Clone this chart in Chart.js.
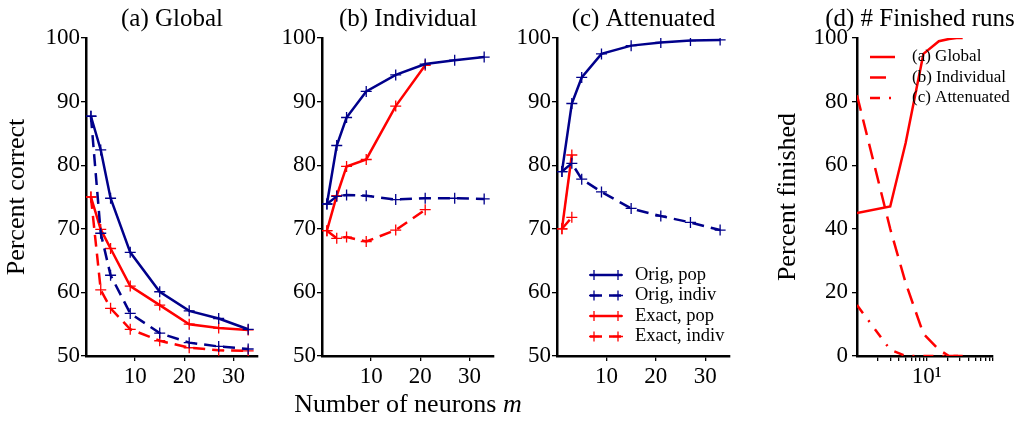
<!DOCTYPE html>
<html>
<head>
<meta charset="utf-8">
<script src="https://cdn.jsdelivr.net/npm/chart.js@4.4.1/dist/chart.umd.min.js"></script>
<style>
  html, body { margin: 0; padding: 0; background: #fff; }
  body { width: 1029px; height: 423px; position: relative; overflow: hidden; }
  canvas { position: absolute; top: 0; }
  #xlabel { position: absolute; top: 391px; left: 408px; transform: translateX(-50%);
            font: 26px/1 "Liberation Serif", serif; color: #000; white-space: nowrap; }
</style>
</head>
<body>
<canvas id="pa" width="344" height="423" style="left:0px"></canvas>
<canvas id="pb" width="344" height="423" style="left:236px"></canvas>
<canvas id="pc" width="345" height="423" style="left:471px"></canvas>
<canvas id="pd" width="298" height="423" style="left:771px"></canvas>
<div id="xlabel">Number of neurons <i>m</i></div>
<script>
// number of neurons m (x values)
const mVals = [1, 3, 5, 9, 15, 21, 27, 33];
const xTicks = [10, 20, 30];
const logTicks = [2, 3, 4, 5, 6, 7, 8, 9, 10, 20, 30, 40, 50, 60, 70, 80, 90];

// (a) Global
const aOrigPop    = [87.7, 82.4, 74.8, 66.3, 60.1, 57.1, 55.9, 54.2];
const aOrigIndiv  = [87.7, 69.3, 62.7, 56.7, 53.6, 52.1, 51.5, 51.1];
const aExactPop   = [75.0, 69.9, 66.9, 61.0, 58.0, 55.0, 54.4, 54.1];
const aExactIndiv = [75.0, 60.4, 57.5, 54.2, 52.4, 51.3, 50.9, 50.8];

// (b) Individual
const bOrigPop    = [73.9, 83.1, 87.5, 91.6, 94.2, 95.9, 96.5, 97.0];
const bOrigIndiv  = [73.9, 75.1, 75.3, 75.2, 74.6, 74.8, 74.8, 74.7];
const bExactPop   = [69.7, 75.2, 79.8, 80.9, 89.3, 95.7];
const bExactIndiv = [69.7, 68.5, 68.7, 68.0, 69.8, 73.0];

// (c) Attenuated
const cOrigPop    = [79.0, 89.7, 93.8, 97.5, 98.8, 99.3, 99.6, 99.7];
const cOrigIndiv  = [79.0, 80.3, 77.8, 75.8, 73.2, 72.0, 71.0, 69.8];
const cExactPop   = [70.0, 81.6];
const cExactIndiv = [70.0, 71.8];

// (d) # Finished runs (percent)
const dGlobal     = [45, 47, 67, 95, 99, 99.7, 100, 100];
const dIndividual = [82, 40, 23, 7, 2, 0, 0, 0];
const dAttenuated = [16, 2, 0, 0, 0, 0, 0, 0];

const legendLabels = ['Orig, pop', 'Orig, indiv', 'Exact, pop', 'Exact, indiv'];
const finishedLabels = ['(a) Global', '(b) Individual', '(c) Attenuated'];

const BLUE = '#00008b';
const RED = '#ff0000';
const FONT = '"Liberation Serif", serif';

function pts(ys) {
    return ys.map((y, i) => ({ x: mVals[i], y: y }));
}

function series(label, ys, color, dash, marks) {
    return {
        label: label,
        data: pts(ys),
        borderColor: color,
        backgroundColor: color,
        borderWidth: 2.5,
        borderDash: dash,
        pointStyle: 'cross',
        pointRadius: marks ? 5.5 : 0,
        pointBorderWidth: 1.3,
        pointBorderColor: color,
        tension: 0,
        fill: false
    };
}

// draws a small legend box inside the plot area
const boxLegend = {
    id: 'boxLegend',
    afterDatasetsDraw(chart, args, opts) {
        if (!opts.show) return;
        const ctx = chart.ctx, area = chart.chartArea;
        ctx.save();
        ctx.font = opts.font;
        ctx.textBaseline = 'middle';
        chart.data.datasets.forEach((ds, i) => {
            const y = area.top + opts.top + i * opts.rowGap;
            const x0 = area.left + opts.left, x1 = x0 + opts.sample;
            ctx.strokeStyle = ds.borderColor;
            ctx.lineWidth = ds.borderWidth;
            ctx.setLineDash(ds.borderDash || []);
            ctx.beginPath(); ctx.moveTo(x0, y); ctx.lineTo(x1, y); ctx.stroke();
            ctx.setLineDash([]);
            if (ds.pointRadius) {
                ctx.lineWidth = ds.pointBorderWidth;
                [x0 + 4, x1 - 4].forEach(px => {
                    ctx.beginPath();
                    ctx.moveTo(px - 5, y); ctx.lineTo(px + 5, y);
                    ctx.moveTo(px, y - 5); ctx.lineTo(px, y + 5);
                    ctx.stroke();
                });
            }
            ctx.fillStyle = '#000';
            ctx.fillText(ds.label, x1 + opts.textGap, y);
        });
        ctx.restore();
    }
};

function makePanel(id, cfg) {
    const xScale = cfg.logX ? {
        type: 'logarithmic', min: 1, max: 90,
        afterBuildTicks: s => { s.ticks = logTicks.map(v => ({ value: v })); },
        ticks: { autoSkip: false, maxRotation: 0, padding: 2, color: '#000',
                 font: { family: FONT, size: 23 },
                 callback: v => (v === 10 ? '10\u00b9' : '') }
    } : {
        type: 'linear', min: 0, max: 35,
        afterBuildTicks: s => { s.ticks = xTicks.map(v => ({ value: v })); },
        ticks: { autoSkip: false, maxRotation: 0, padding: 2, color: '#000',
                 font: { family: FONT, size: 23 } }
    };
    xScale.grid = { drawOnChartArea: false, tickLength: 5, color: '#000', lineWidth: 1.3 };
    xScale.border = { color: '#000', width: 2.5 };
    xScale.afterFit = s => { s.height = 67; };

    const yScale = {
        type: 'linear', min: cfg.yMin, max: 100,
        ticks: { stepSize: cfg.yStep, padding: cfg.yPad, color: '#000',
                 font: { family: FONT, size: 23 } },
        grid: { drawOnChartArea: false, tickLength: 5, color: '#000', lineWidth: 1.3 },
        border: { color: '#000', width: 2.5 },
        title: { display: !!cfg.yTitle, text: cfg.yTitle || '', color: '#000',
                 font: { family: FONT, size: 26 }, padding: { top: 2, bottom: 0 } },
        afterFit: s => { s.width = 86; }
    };

    // empty right-hand axis, only reserves room so the panel title centres over the plot
    const spacer = {
        type: 'linear', position: 'right', min: 0, max: 1,
        grid: { display: false }, border: { display: false }, ticks: { display: false },
        afterFit: s => { s.width = cfg.padRight; }
    };

    return new Chart(document.getElementById(id), {
        type: 'line',
        data: { datasets: cfg.datasets },
        plugins: [boxLegend],
        options: {
            responsive: false,
            animation: false,
            devicePixelRatio: 1,
            layout: { padding: 0 },
            scales: { x: xScale, y: yScale, spacer: spacer },
            plugins: {
                legend: { display: false },
                tooltip: { enabled: false },
                title: { display: true, text: cfg.title, color: '#000',
                         font: { family: FONT, size: 25, weight: 'normal' },
                         padding: { top: 4, bottom: 4 } },
                boxLegend: cfg.legend || { show: false }
            }
        }
    });
}

function fourSeries(op, oi, ep, ei) {
    return [
        series(legendLabels[0], op, BLUE, [], true),
        series(legendLabels[1], oi, BLUE, [12, 7], true),
        series(legendLabels[2], ep, RED, [], true),
        series(legendLabels[3], ei, RED, [12, 7], true)
    ];
}

makePanel('pa', { title: '(a) Global', yTitle: 'Percent correct', yMin: 50, yStep: 10, yPad: 1, padRight: 86,
    datasets: fourSeries(aOrigPop, aOrigIndiv, aExactPop, aExactIndiv) });

makePanel('pb', { title: '(b) Individual', yMin: 50, yStep: 10, yPad: 1, padRight: 86,
    datasets: fourSeries(bOrigPop, bOrigIndiv, bExactPop, bExactIndiv) });

makePanel('pc', { title: '(c) Attenuated', yMin: 50, yStep: 10, yPad: 1, padRight: 86,
    datasets: fourSeries(cOrigPop, cOrigIndiv, cExactPop, cExactIndiv),
    legend: { show: true, font: '18.5px ' + FONT, left: 33, sample: 32, textGap: 13, top: 237, rowGap: 20.5 } });

makePanel('pd', { title: '(d) # Finished runs', yTitle: 'Percent finished', yMin: 0, yStep: 20, yPad: 4, padRight: 76, logX: true,
    datasets: [
        series(finishedLabels[0], dGlobal, RED, [], false),
        series(finishedLabels[1], dIndividual, RED, [16, 9], false),
        series(finishedLabels[2], dAttenuated, RED, [10, 9, 2, 9], false)
    ],
    legend: { show: true, font: '17px ' + FONT, left: 13, sample: 25, textGap: 17, top: 19, rowGap: 20.5 } });
</script>
</body>
</html>
